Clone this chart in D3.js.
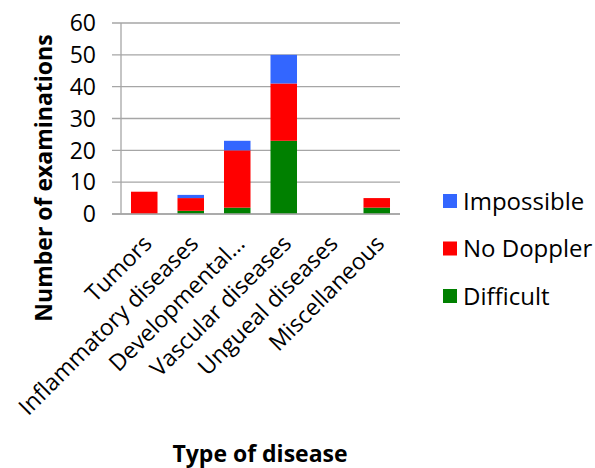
<!DOCTYPE html>
<html>
<head>
<meta charset="utf-8">
<script src="https://cdn.jsdelivr.net/npm/d3@7"></script>
<style>
  html, body { margin: 0; padding: 0; background: #fff; }
  svg { display: block; }
  text { font-family: "Open Sans", "Liberation Sans", sans-serif; fill: #000; }
</style>
</head>
<body>
<svg id="chart" width="595" height="468"></svg>
<script>
// Disease categories along the x axis
const categories = ["Tumors", "Inflammatory diseases", "Developmental…", "Vascular diseases", "Ungueal diseases", "Miscellaneous"];

// Stacked series (bottom to top)
const difficult  = [0, 1, 2, 23, 0, 2];
const noDoppler  = [7, 4, 18, 18, 0, 3];
const impossible = [0, 1, 3, 9, 0, 0];

const seriesNames  = ["Difficult", "No Doppler", "Impossible"];
const seriesColors = ["#008000", "#ff0000", "#3366ff"];
const yTicks = [0, 10, 20, 30, 40, 50, 60];

const svg = d3.select("#chart");
const margin = { left: 121, right: 195, top: 23, bottom: 254 };
const W = 595, H = 468;
const fs = "23px";

const x = d3.scaleBand().domain(categories)
  .range([margin.left, W - margin.right]).paddingInner(0.43).paddingOuter(0.215);
const y = d3.scaleLinear().domain([0, 60]).range([H - margin.bottom, margin.top]);

// Gridlines with short ticks to the left of the axis
svg.append("g").selectAll("line").data(yTicks).join("line")
  .attr("x1", margin.left - 9).attr("x2", W - margin.right)
  .attr("y1", d => y(d)).attr("y2", d => y(d))
  .attr("stroke", "#a6a6a6").attr("stroke-width", 1.3);

// Y tick labels
svg.append("g").selectAll("text").data(yTicks).join("text")
  .attr("x", margin.left - 25).attr("y", d => y(d))
  .attr("dy", "0.36em").attr("text-anchor", "end")
  .style("font-size", fs).text(d => d);

// Stacked bars
const rows = categories.map((c, i) => ({ cat: c, Difficult: difficult[i], "No Doppler": noDoppler[i], Impossible: impossible[i] }));
const stack = d3.stack().keys(seriesNames)(rows);
svg.append("g").selectAll("g").data(stack).join("g")
  .attr("fill", (d, i) => seriesColors[i])
  .selectAll("rect").data(d => d).join("rect")
  .attr("x", d => x(d.data.cat)).attr("width", x.bandwidth())
  .attr("y", d => y(d[1])).attr("height", d => y(d[0]) - y(d[1]));

// Axis lines
svg.append("line").attr("x1", margin.left).attr("x2", margin.left)
  .attr("y1", y(60)).attr("y2", y(0)).attr("stroke", "#a6a6a6").attr("stroke-width", 1.3);
svg.append("line").attr("x1", margin.left - 9).attr("x2", W - margin.right)
  .attr("y1", y(0)).attr("y2", y(0)).attr("stroke", "#a6a6a6").attr("stroke-width", 1.3);

// Rotated category labels
svg.append("g").selectAll("text").data(categories).join("text")
  .attr("text-anchor", "end")
  .attr("transform", d => `translate(${x(d) + x.bandwidth() / 2 + 9},${y(0) + 31}) rotate(-45)`)
  .style("font-size", fs).text(d => d);

// Axis titles
svg.append("text").attr("transform", "translate(52,178) rotate(-90)")
  .attr("text-anchor", "middle").style("font-size", fs).style("font-weight", "bold")
  .text("Number of examinations");
svg.append("text").attr("x", 260).attr("y", 462).attr("text-anchor", "middle")
  .style("font-size", fs).style("font-weight", "bold").text("Type of disease");

// Legend (top entry is the top of the stack)
const legendItems = seriesNames.map((n, i) => ({ name: n, color: seriesColors[i] })).reverse();
const lg = svg.append("g").selectAll("g").data(legendItems).join("g")
  .attr("transform", (d, i) => `translate(443,${201 + i * 47.5})`);
lg.append("rect").attr("x", 0).attr("y", -7).attr("width", 14).attr("height", 14).attr("fill", d => d.color);
lg.append("text").attr("x", 20).attr("dy", "0.36em").style("font-size", "24px").text(d => d.name);
</script>
</body>
</html>
